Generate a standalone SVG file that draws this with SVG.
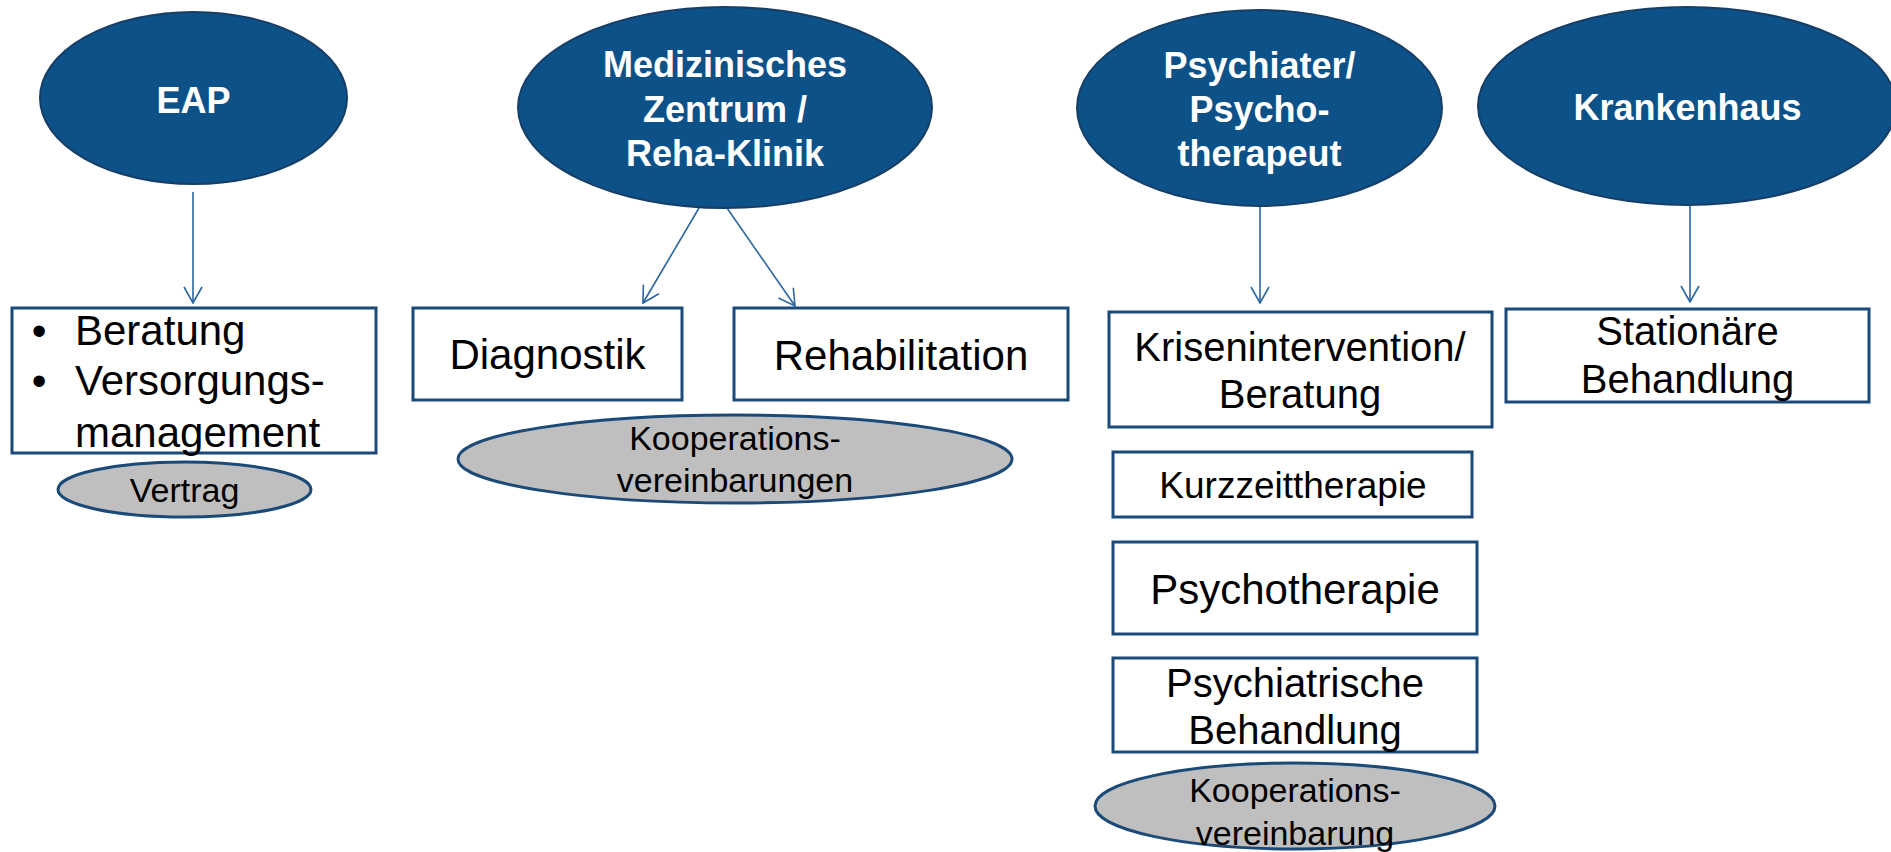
<svg xmlns="http://www.w3.org/2000/svg" width="1891" height="852" viewBox="0 0 1891 852">
<style>
.top{fill:#0D5189;stroke:#163E66;stroke-width:2}
.box{fill:#FFFFFF;stroke:#1B4A78;stroke-width:3}
.oval{fill:#BFBFBF;stroke:#1B4A78;stroke-width:3}
.tt{font-family:"Liberation Sans",Arial,sans-serif;font-weight:bold;font-size:36px;fill:#FFFFFF;text-anchor:middle}
.bt{font-family:"Liberation Sans",Arial,sans-serif;font-size:42px;fill:#000000;text-anchor:middle}
.ot{font-family:"Liberation Sans",Arial,sans-serif;font-size:34px;fill:#000000;text-anchor:middle}
.con{stroke:#2B66A0;stroke-width:1.6;fill:none;marker-end:url(#arr)}
</style>
<defs>
<marker id="arr" markerUnits="userSpaceOnUse" viewBox="0 0 18 20" refX="17" refY="10" markerWidth="18" markerHeight="20" orient="auto">
<path d="M1,1 L17,10 L1,19" fill="none" stroke="#2B66A0" stroke-width="1.6"/>
</marker>
</defs>
<rect width="1891" height="852" fill="#FFFFFF"/>

<g id="connectors">
<line class="con" x1="193" y1="192" x2="193" y2="303"/>
<line class="con" x1="699" y1="208" x2="643" y2="303"/>
<line class="con" x1="727" y1="208" x2="795" y2="306"/>
<line class="con" x1="1260" y1="206" x2="1260" y2="303"/>
<line class="con" x1="1690" y1="205" x2="1690" y2="302"/>
</g>

<g id="eap">
<ellipse class="top" cx="193.5" cy="98" rx="153.5" ry="86"/>
<text class="tt" x="193.5" y="113">EAP</text>
</g>

<g id="med">
<ellipse class="top" cx="725" cy="107.5" rx="207" ry="100.5"/>
<text class="tt" x="725" y="77">Medizinisches</text>
<text class="tt" x="725" y="122">Zentrum /</text>
<text class="tt" x="725" y="166">Reha-Klinik</text>
</g>

<g id="psych">
<ellipse class="top" cx="1259.5" cy="108" rx="182.5" ry="98"/>
<text class="tt" x="1259.5" y="78">Psychiater/</text>
<text class="tt" x="1259.5" y="122">Psycho-</text>
<text class="tt" x="1259.5" y="166">therapeut</text>
</g>

<g id="kranken">
<ellipse class="top" cx="1687" cy="106" rx="209" ry="99"/>
<text class="tt" x="1687.5" y="120">Krankenhaus</text>
</g>

<g id="eap-box">
<rect class="box" x="12" y="308" width="364" height="145"/>
<text class="bt" x="39" y="345">•</text>
<text class="bt" x="75" y="345" style="text-anchor:start">Beratung</text>
<text class="bt" x="39" y="395">•</text>
<text class="bt" x="75" y="395" style="text-anchor:start">Versorgungs-</text>
<text class="bt" x="75" y="447" style="text-anchor:start">management</text>
</g>

<g id="vertrag">
<ellipse class="oval" cx="184.5" cy="489.5" rx="126.5" ry="27.5"/>
<text class="ot" x="184.5" y="502">Vertrag</text>
</g>

<g id="diagnostik">
<rect class="box" x="413" y="308" width="269" height="92"/>
<text class="bt" x="547.5" y="369">Diagnostik</text>
</g>

<g id="rehabilitation">
<rect class="box" x="734" y="308" width="334" height="92"/>
<text class="bt" x="901" y="370">Rehabilitation</text>
</g>

<g id="koop1">
<ellipse class="oval" cx="735" cy="459" rx="277" ry="44"/>
<text class="ot" x="735" y="450">Kooperations-</text>
<text class="ot" x="735" y="492">vereinbarungen</text>
</g>

<g id="krisen">
<rect class="box" x="1109" y="312" width="383" height="115"/>
<text class="bt" x="1300" y="361" style="font-size:40px">Krisenintervention/</text>
<text class="bt" x="1300" y="408" style="font-size:40px">Beratung</text>
</g>

<g id="kurzzeit">
<rect class="box" x="1113" y="452" width="359" height="65"/>
<text class="bt" x="1293" y="498" style="font-size:37px">Kurzzeittherapie</text>
</g>

<g id="psychotherapie">
<rect class="box" x="1113" y="542" width="364" height="92"/>
<text class="bt" x="1295" y="604">Psychotherapie</text>
</g>

<g id="psychiatrische">
<rect class="box" x="1113" y="658" width="364" height="94"/>
<text class="bt" x="1295" y="697" style="font-size:40px">Psychiatrische</text>
<text class="bt" x="1295" y="744" style="font-size:40px">Behandlung</text>
</g>

<g id="koop2">
<ellipse class="oval" cx="1295" cy="806" rx="200" ry="43"/>
<text class="ot" x="1295" y="802">Kooperations-</text>
<text class="ot" x="1295" y="845">vereinbarung</text>
</g>

<g id="stationaer">
<rect class="box" x="1506" y="309" width="363" height="93"/>
<text class="bt" x="1687.5" y="345" style="font-size:40px">Stationäre</text>
<text class="bt" x="1687.5" y="393" style="font-size:40px">Behandlung</text>
</g>
</svg>
